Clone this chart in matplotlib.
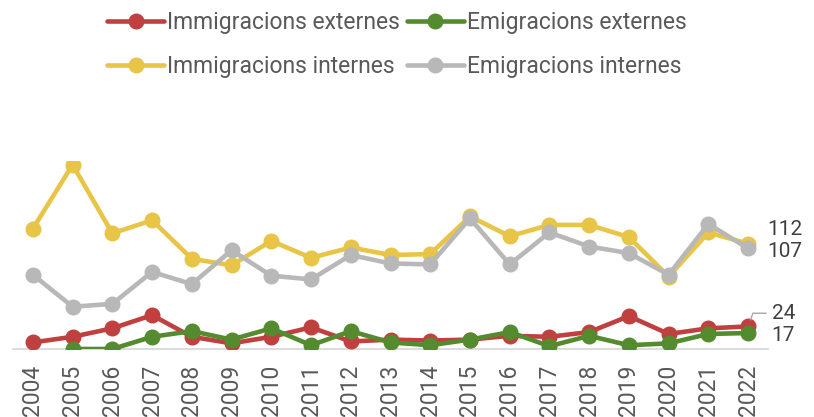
import matplotlib.pyplot as plt
import numpy as np

years = [str(y) for y in range(2004, 2023)]
immig_ext = [7, 13, 22, 36, 13, 6, 13, 23, 8, 10, 9, 10, 14, 13, 18, 35, 16, 22, 24]
emig_ext = [np.nan, 0, 0, 13, 19, 10, 22, 4, 19, 7, 4, 10, 18, 3, 14, 4, 6, 16, 17]
immig_int = [128, 196, 123, 137, 96, 89, 115, 97, 108, 100, 101, 141, 120, 132, 132, 119, 77, 124, 112]
emig_int = [79, 45, 48, 82, 69, 105, 78, 74, 100, 91, 90, 139, 90, 124, 109, 102, 79, 133, 107]

series = [
    ("Immigracions externes", immig_ext, "#C0403F"),
    ("Emigracions externes", emig_ext, "#558B2F"),
    ("Immigracions internes", immig_int, "#E8C547"),
    ("Emigracions internes", emig_int, "#B8B8B8"),
]

plt.rcParams['font.family'] = ['Roboto', 'DejaVu Sans']

fig = plt.figure(figsize=(8.14, 4.17), dpi=100)
ax = fig.add_axes([13 / 814, 68 / 417, 755 / 814, 188 / 417])

x = np.arange(len(years))
lines = []
for name, vals, col in series:
    ln, = ax.plot(x, vals, color=col, lw=3.3, marker='o', ms=10.5, label=name,
                  solid_capstyle='round')
    lines.append(ln)

ax.set_xlim(-0.5, len(years) - 0.5)
ax.set_ylim(0, 200)
ax.set_xticks(x)
ax.set_xticklabels(years, rotation=90, fontsize=16.5, color='#595959')
ax.tick_params(axis='x', length=0, pad=11)
ax.set_yticks([])
for s in ['top', 'right', 'left']:
    ax.spines[s].set_visible(False)
ax.spines['bottom'].set_color('#D9D9D9')
ax.spines['bottom'].set_linewidth(1.3)
ax.spines['bottom'].set_zorder(0)

# end labels
last = len(years) - 1
lab = dict(textcoords='offset points', fontsize=15, color='#404040', va='center')
ax.annotate(str(immig_int[-1]), (last, immig_int[-1]), xytext=(14, 10), **lab)
ax.annotate(str(emig_int[-1]), (last, emig_int[-1]), xytext=(14, -2.5), **lab)
ax.annotate(str(immig_ext[-1]), (last, immig_ext[-1]), xytext=(17, 9.5),
            arrowprops=dict(arrowstyle='-', color='#A6A6A6', lw=1, shrinkA=2, shrinkB=5,
                            connectionstyle='angle,angleA=0,angleB=70'), **lab)
ax.annotate(str(int(emig_ext[-1])), (last, emig_ext[-1]), xytext=(17, -2), **lab)

order = [0, 2, 1, 3]
leg = fig.legend([lines[i] for i in order], [series[i][0] for i in order],
                 loc='upper left', bbox_to_anchor=(92 / 814, 1.01), ncol=2, frameon=False,
                 fontsize=16.5, handlelength=2.5, handletextpad=0.12, columnspacing=0.3,
                 labelspacing=0.95, borderaxespad=0.25)
for t in leg.get_texts():
    t.set_color('#595959')

fig.savefig('out.png', dpi=100)
